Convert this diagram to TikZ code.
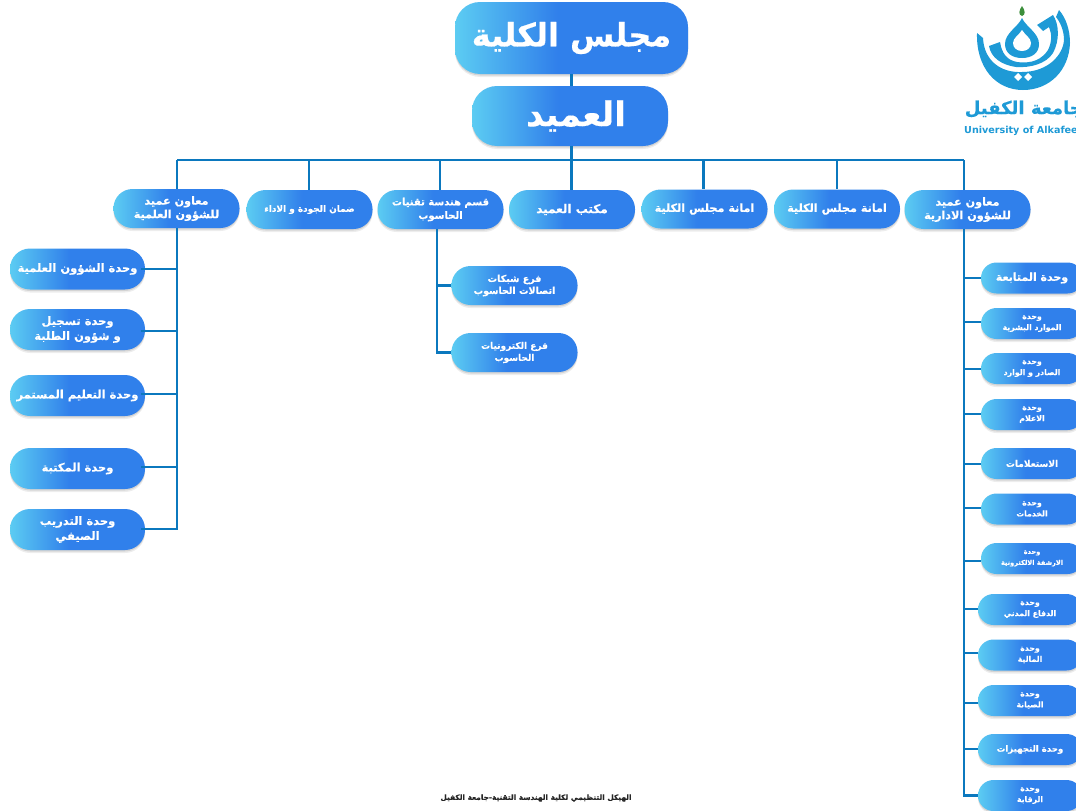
\documentclass[tikz,border=0pt]{standalone}
\usepackage{fontspec}
\usetikzlibrary{shadows,calc}
\setmainfont{DejaVu Sans}
\newfontfamily\arabicfont[Script=Arabic,BoldFeatures={FakeBold=0.4}]{DejaVu Sans}
\TeXXeTstate=1
\newcommand{\rl}[1]{\beginR #1\endR}
\pgfdeclarehorizontalshading{orggrad}{100bp}{rgb(0bp)=(.36,.80,.95);rgb(25bp)=(.36,.80,.95);rgb(47bp)=(.19,.50,.92);rgb(100bp)=(.19,.50,.92)}
\definecolor{lineblue}{HTML}{0B78BE}
\definecolor{logoblue}{HTML}{1E9AD6}
\definecolor{logogreen}{HTML}{3C8F3C}
\tikzset{
  x=1pt,y=-1pt,
  orgbox/.style={shape=rectangle,rounded corners=#1,shading=orggrad,text=white,
    font=\arabicfont\bfseries,align=center,inner sep=0pt,
    drop shadow={shadow xshift=0pt,shadow yshift=-3pt,opacity=.07,fill=black},
    drop shadow={shadow xshift=0pt,shadow yshift=-1.5pt,opacity=.10,fill=black}},
  orgbox/.default=19pt,
  conn/.style={draw=lineblue,line width=2.6pt},
  thinconn/.style={draw=lineblue,line width=2.2pt},
  box125/.style={orgbox,minimum width=126pt,minimum height=39pt},
  box135/.style={orgbox=20pt,minimum width=135pt,minimum height=41pt},
  boxr/.style={orgbox=15.5pt,minimum width=102pt,minimum height=31pt},
  boxrw/.style={orgbox=15.5pt,minimum width=104pt,minimum height=31pt},
  rowfont/.style={font=\arabicfont\bfseries\fontsize{#1}{13.5}\selectfont},
  rowfont/.default=11.2,
  leftfont/.style={font=\arabicfont\bfseries\fontsize{11.5}{15}\selectfont},
  subfont/.style={font=\arabicfont\bfseries\fontsize{#1}{12}\selectfont},
  subfont/.default=9,
  rf/.style={font=\arabicfont\bfseries\fontsize{#1}{11}\selectfont},
  rf/.default=7.8,
}
\begin{document}
\begin{tikzpicture}
\useasboundingbox (0,0) rectangle (1076,811);
\fill[white] (0,0) rectangle (1076,811);
\clip (0,0) rectangle (1076,811);
% top
\node[orgbox=25pt,minimum width=233pt,minimum height=72pt,font=\arabicfont\bfseries\fontsize{32}{34}\selectfont] (council) at (571.5,38) {\rl{مجلس الكلية}};
\node[orgbox=25pt,minimum width=196pt,minimum height=60pt,font=\arabicfont\bfseries\fontsize{34}{36}\selectfont] (dean) at (570,116) {\hspace{12pt}\rl{العميد}};
% row
\node[box125,rowfont] (n1) at (176.5,208.5) {\rl{معاون عميد}\\\rl{للشؤون العلمية}};
\node[box125,rowfont=8.9] (n2) at (309.5,209.5) {\rl{ضمان الجودة و الاداء}};
\node[box125,rowfont=10] (n3) at (440.5,209.5) {\rl{قسم هندسة تقنيات}\\\rl{الحاسوب}};
\node[box125,rowfont=12] (n4) at (572,209.5) {\rl{مكتب العميد}};
\node[box125,rowfont] (n5) at (704.5,209) {\rl{امانة مجلس الكلية}};
\node[box125,rowfont] (n6) at (837,209) {\rl{امانة مجلس الكلية}};
\node[box125,rowfont] (n7) at (967.5,209.5) {\rl{معاون عميد}\\\rl{للشؤون الادارية}};
% left column
\node[box135,leftfont] (l1) at (77.5,269) {\rl{وحدة الشؤون العلمية}};
\node[box135,leftfont] (l2) at (77.5,329.5) {\rl{وحدة تسجيل}\\\rl{و شؤون الطلبة}};
\node[box135,leftfont] (l3) at (77.5,395.5) {\rl{وحدة التعليم المستمر}};
\node[box135,leftfont] (l4) at (77.5,468.5) {\rl{وحدة المكتبة}};
\node[box135,leftfont] (l5) at (77.5,529.5) {\rl{وحدة التدريب}\\\rl{الصيفي}};
% sub column
\node[box125,subfont=9.5] (s1) at (514.5,285.5) {\rl{فرع شبكات}\\\rl{اتصالات الحاسوب}};
\node[box125,subfont] (s2) at (514.5,352.5) {\rl{فرع الكترونيات}\\\rl{الحاسوب}};
% right column
\node[boxr,rf=11] (r1) at (1032,278) {\rl{وحدة المتابعة}};
\node[boxr,rf] (r2) at (1032,323.5) {\rl{وحدة}\\\rl{الموارد البشرية}};
\node[boxr,rf] (r3) at (1032,368.5) {\rl{وحدة}\\\rl{الصادر و الوارد}};
\node[boxr,rf] (r4) at (1032,414.5) {\rl{وحدة}\\\rl{الاعلام}};
\node[boxr,rf=9] (r5) at (1032,463.5) {\rl{الاستعلامات}};
\node[boxr,rf] (r6) at (1032,509) {\rl{وحدة}\\\rl{الخدمات}};
\node[boxr,rf=6.6] (r7) at (1032,558.5) {\rl{وحدة}\\\rl{الارشفة الالكترونية}};
\node[boxrw,rf] (r8) at (1030,609.5) {\rl{وحدة}\\\rl{الدفاع المدني}};
\node[boxrw,rf] (r9) at (1030,655) {\rl{وحدة}\\\rl{المالية}};
\node[boxrw,rf] (r10) at (1030,700.5) {\rl{وحدة}\\\rl{الصيانة}};
\node[boxrw,rf=8.6] (r11) at (1030,749.5) {\rl{وحدة التجهيزات}};
\node[boxrw,rf] (r12) at (1030,795.5) {\rl{وحدة}\\\rl{الرقابة}};
% footer
\node[font=\arabicfont\bfseries\fontsize{7.4}{9}\selectfont,text=black!85,inner sep=0pt] (foot) at (536,798) {\rl{الهيكل التنظيمي لكلية الهندسة التقنية-جامعة الكفيل}};
% bus
\coordinate (b1) at (177,160);
\coordinate (b2) at (309,160);
\coordinate (b3) at (440,160);
\coordinate (b4) at (571.5,160);
\coordinate (b5) at (703.5,160);
\coordinate (b6) at (837,160);
\coordinate (b7) at (964,160);
\coordinate (tr) at (437,229);
\draw[thinconn] (council.south -| b4) -- (dean.north -| b4);
\draw[thinconn] (dean.south -| b4) -- (b4);
\draw[conn] (b1) -- (b7);
\foreach \i in {1,...,7} {\draw[thinconn] (b\i) -- (b\i |- n\i.north);}
% left branch
\draw[conn] (b1 |- n1.south) -- (b1 |- l5.east);
\foreach \i/\d in {1/0,2/-1.5,3/1.5,4/1.5,5/0.5} {
  \coordinate (j) at ([yshift=\d pt,xshift=-4pt]l\i.east);
  \draw[thinconn] (j) -- (b1 |- j);
}
% sub branch
\draw[thinconn] (tr |- n3.south) -- (tr |- s2.west) -- (s2.west);
\draw[thinconn] (tr |- s1.west) -- (s1.west);
% right branch
\draw[conn] (b7 |- n7.south) -- (b7 |- r12.west) -- (r12.west);
\foreach \i/\d in {1/0,2/1.5,3/-0.5,4/0.5,5/-0.5,6/1,7/-2.5,8/0.5,9/2,10/-2.5,11/0.5} {
  \coordinate (j) at ([yshift=\d pt]r\i.west);
  \draw[thinconn] (j) -- (b7 |- j);
}
% logo
\fill[logogreen] (1022,6) .. controls (1019,10) and (1018,15) .. (1022,16) .. controls (1026,15) and (1025,10) .. (1022,6) -- cycle;
% outer bowl
\fill[logoblue] (977,33) -- (983,38) .. controls (984,60) and (1000,73) .. (1022,72) .. controls (1048,72) and (1063,55) .. (1064,40) .. controls (1064,30) and (1060,22) .. (1056,17) -- (1059,10) .. controls (1066,18) and (1070,30) .. (1070,43) .. controls (1069,70) and (1050,90) .. (1023,90) .. controls (996,90) and (976,68) .. (977,33) -- cycle;
% inner strokes
\fill[logoblue] (989,46) -- (1000,42) .. controls (1002,54) and (1007,60) .. (1017,62) .. controls (1033,64) and (1042,59) .. (1048,50) .. controls (1052,42) and (1052,34) .. (1049,27) -- (1043,31) -- (1037,25) -- (1053,15) .. controls (1059,24) and (1060,40) .. (1053,53) .. controls (1046,64) and (1030,68) .. (1016,67) .. controls (1002,65) and (991,58) .. (989,46) -- cycle;
% drop
\fill[logoblue] (1022,18) .. controls (1018,27) and (1005,33) .. (1005,44) .. controls (1005,53) and (1012,58) .. (1022,58) .. controls (1032,58) and (1039,53) .. (1039,44) .. controls (1039,33) and (1026,27) .. (1022,18) -- cycle;
\fill[white] (1022,30) .. controls (1019,35) and (1013,38) .. (1013,43) .. controls (1013,48) and (1017,51) .. (1022,51) .. controls (1027,51) and (1031,48) .. (1031,43) .. controls (1031,38) and (1025,35) .. (1022,30) -- cycle;
\fill[white] (1018,73) -- (1022,77) -- (1018,81) -- (1014,77) -- cycle;
\fill[white] (1028,73) -- (1032,77) -- (1028,81) -- (1024,77) -- cycle;
\node[anchor=east,inner sep=0pt,text=logoblue,font=\arabicfont\bfseries\fontsize{18}{20}\selectfont] (logoar) at (1083,109) {\rl{جامعة الكفيل}};
\node[anchor=west,inner sep=0pt,text=logoblue,font=\bfseries\fontsize{9.6}{12}\selectfont] (logoen) at (964,131) {University of Alkafee};
\end{tikzpicture}
\end{document}
